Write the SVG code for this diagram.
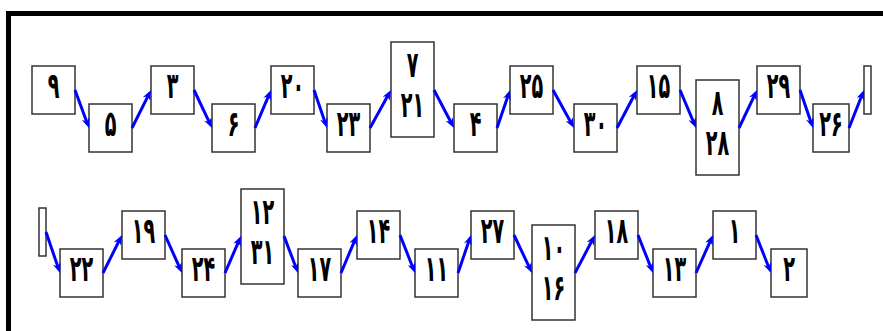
<svg xmlns="http://www.w3.org/2000/svg" width="883" height="331" viewBox="0 0 883 331">
<defs>
<style>
.bx{fill:#ffffff;stroke:#333333;stroke-width:1.5}
.t{font-family:"DejaVu Sans",sans-serif;font-weight:bold;font-size:24px;fill:#000;text-anchor:middle}
.c{stroke:#0000ff;stroke-width:3;fill:none;stroke-dasharray:88 12}
</style>
<marker id="ah" viewBox="0 0 10 8" refX="10" refY="4" markerWidth="11" markerHeight="8" markerUnits="userSpaceOnUse" orient="auto">
<path d="M0,0 L10,4 L0,8 L3,4 Z" fill="#0000ff"/>
</marker>
</defs>
<rect width="883" height="331" fill="#ffffff"/>
<path d="M8.5,331 V13.5 H883" fill="none" stroke="#000" stroke-width="5"/>

<g id="n9"><rect class="bx" x="32" y="66" width="43" height="48"/><text class="t" transform="translate(53.5,98) scale(0.8,1.5)">۹</text></g>
<g id="n5"><rect class="bx" x="89" y="104" width="43" height="48"/><text class="t" transform="translate(110.5,136) scale(0.8,1.5)">۵</text></g>
<g id="n3"><rect class="bx" x="151" y="66" width="43" height="48"/><text class="t" transform="translate(172.5,98) scale(0.8,1.5)">۳</text></g>
<g id="n6"><rect class="bx" x="212" y="104" width="43" height="48"/><text class="t" transform="translate(233.5,136) scale(0.8,1.5)">۶</text></g>
<g id="n20"><rect class="bx" x="271" y="66" width="43" height="48"/><text class="t" transform="translate(292.5,98) scale(0.8,1.5)">۲۰</text></g>
<g id="n23"><rect class="bx" x="327" y="104" width="43" height="48"/><text class="t" transform="translate(348.5,136) scale(0.8,1.5)">۲۳</text></g>
<g id="n7_21"><rect class="bx" x="391" y="42" width="43" height="95"/><text class="t" transform="translate(412.5,77) scale(0.8,1.5)">۷</text><text class="t" transform="translate(412.5,117) scale(0.8,1.5)">۲۱</text></g>
<g id="n4"><rect class="bx" x="454" y="104" width="43" height="48"/><text class="t" transform="translate(475.5,136) scale(0.8,1.5)">۴</text></g>
<g id="n25"><rect class="bx" x="510" y="66" width="43" height="48"/><text class="t" transform="translate(531.5,98) scale(0.8,1.5)">۲۵</text></g>
<g id="n30"><rect class="bx" x="574" y="104" width="43" height="48"/><text class="t" transform="translate(595.5,136) scale(0.8,1.5)">۳۰</text></g>
<g id="n15"><rect class="bx" x="637" y="66" width="43" height="48"/><text class="t" transform="translate(658.5,98) scale(0.8,1.5)">۱۵</text></g>
<g id="n8_28"><rect class="bx" x="696" y="80" width="43" height="95"/><text class="t" transform="translate(717.5,115) scale(0.8,1.5)">۸</text><text class="t" transform="translate(717.5,155) scale(0.8,1.5)">۲۸</text></g>
<g id="n29"><rect class="bx" x="757" y="66" width="43" height="48"/><text class="t" transform="translate(778.5,98) scale(0.8,1.5)">۲۹</text></g>
<g id="n26"><rect class="bx" x="813" y="104" width="36" height="48"/><text class="t" transform="translate(831,136) scale(0.8,1.5)">۲۶</text></g>
<g id="end1"><rect class="bx" x="864" y="66" width="7" height="48"/></g>

<g id="start2"><rect class="bx" x="39" y="208" width="7" height="48"/></g>
<g id="n22"><rect class="bx" x="60" y="249" width="43" height="48"/><text class="t" transform="translate(81.5,281) scale(0.8,1.5)">۲۲</text></g>
<g id="n19"><rect class="bx" x="122" y="211" width="43" height="48"/><text class="t" transform="translate(143.5,243) scale(0.8,1.5)">۱۹</text></g>
<g id="n24"><rect class="bx" x="182" y="249" width="43" height="48"/><text class="t" transform="translate(203.5,281) scale(0.8,1.5)">۲۴</text></g>
<g id="n12_31"><rect class="bx" x="241" y="189" width="43" height="95"/><text class="t" transform="translate(262.5,224) scale(0.8,1.5)">۱۲</text><text class="t" transform="translate(262.5,264) scale(0.8,1.5)">۳۱</text></g>
<g id="n17"><rect class="bx" x="298" y="249" width="43" height="48"/><text class="t" transform="translate(319.5,281) scale(0.8,1.5)">۱۷</text></g>
<g id="n14"><rect class="bx" x="357" y="211" width="43" height="48"/><text class="t" transform="translate(378.5,243) scale(0.8,1.5)">۱۴</text></g>
<g id="n11"><rect class="bx" x="415" y="249" width="43" height="48"/><text class="t" transform="translate(436.5,281) scale(0.8,1.5)">۱۱</text></g>
<g id="n27"><rect class="bx" x="471" y="211" width="43" height="48"/><text class="t" transform="translate(492.5,243) scale(0.8,1.5)">۲۷</text></g>
<g id="n10_16"><rect class="bx" x="532" y="225" width="43" height="95"/><text class="t" transform="translate(553.5,260) scale(0.8,1.5)">۱۰</text><text class="t" transform="translate(553.5,300) scale(0.8,1.5)">۱۶</text></g>
<g id="n18"><rect class="bx" x="595" y="211" width="43" height="48"/><text class="t" transform="translate(616.5,243) scale(0.8,1.5)">۱۸</text></g>
<g id="n13"><rect class="bx" x="653" y="249" width="43" height="48"/><text class="t" transform="translate(674.5,281) scale(0.8,1.5)">۱۳</text></g>
<g id="n1"><rect class="bx" x="713" y="211" width="43" height="48"/><text class="t" transform="translate(734.5,243) scale(0.8,1.5)">۱</text></g>
<g id="n2"><rect class="bx" x="771" y="249" width="36" height="48"/><text class="t" transform="translate(789,281) scale(0.8,1.5)">۲</text></g>

<g id="connectors">
<path class="c" pathLength="100" marker-end="url(#ah)" d="M75,90 L89,128"/>
<path class="c" pathLength="100" marker-end="url(#ah)" d="M132,128 L151,90"/>
<path class="c" pathLength="100" marker-end="url(#ah)" d="M194,90 L212,128"/>
<path class="c" pathLength="100" marker-end="url(#ah)" d="M255,128 L271,90"/>
<path class="c" pathLength="100" marker-end="url(#ah)" d="M314,90 L327,128"/>
<path class="c" pathLength="100" marker-end="url(#ah)" d="M370,128 L391,90"/>
<path class="c" pathLength="100" marker-end="url(#ah)" d="M434,90 L454,128"/>
<path class="c" pathLength="100" marker-end="url(#ah)" d="M497,128 L510,90"/>
<path class="c" pathLength="100" marker-end="url(#ah)" d="M553,90 L574,128"/>
<path class="c" pathLength="100" marker-end="url(#ah)" d="M617,128 L637,90"/>
<path class="c" pathLength="100" marker-end="url(#ah)" d="M680,90 L696,128"/>
<path class="c" pathLength="100" marker-end="url(#ah)" d="M739,128 L757,90"/>
<path class="c" pathLength="100" marker-end="url(#ah)" d="M800,90 L813,128"/>
<path class="c" pathLength="100" marker-end="url(#ah)" d="M849,128 L864,90"/>
<path class="c" pathLength="100" marker-end="url(#ah)" d="M46,232 L60,273"/>
<path class="c" pathLength="100" marker-end="url(#ah)" d="M103,273 L122,235"/>
<path class="c" pathLength="100" marker-end="url(#ah)" d="M165,235 L182,273"/>
<path class="c" pathLength="100" marker-end="url(#ah)" d="M225,273 L241,236"/>
<path class="c" pathLength="100" marker-end="url(#ah)" d="M284,236 L298,273"/>
<path class="c" pathLength="100" marker-end="url(#ah)" d="M341,273 L357,235"/>
<path class="c" pathLength="100" marker-end="url(#ah)" d="M400,235 L415,273"/>
<path class="c" pathLength="100" marker-end="url(#ah)" d="M458,273 L471,235"/>
<path class="c" pathLength="100" marker-end="url(#ah)" d="M514,235 L532,273"/>
<path class="c" pathLength="100" marker-end="url(#ah)" d="M575,273 L595,235"/>
<path class="c" pathLength="100" marker-end="url(#ah)" d="M638,235 L653,273"/>
<path class="c" pathLength="100" marker-end="url(#ah)" d="M696,273 L713,235"/>
<path class="c" pathLength="100" marker-end="url(#ah)" d="M756,235 L771,273"/>
</g>
</svg>
